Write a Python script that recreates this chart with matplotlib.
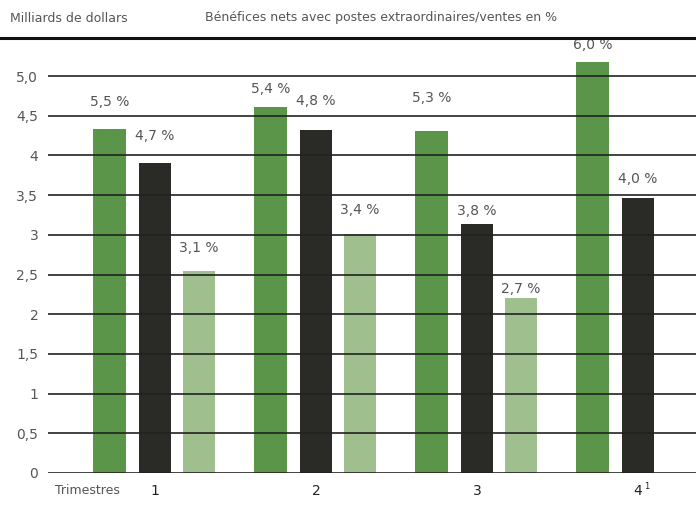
import matplotlib
matplotlib.use("Agg")
import matplotlib.pyplot as plt
from matplotlib.lines import Line2D

# Données (milliards de dollars)
trimestres = ["1", "2", "3", "4"]
serie_a = [4.33, 4.61, 4.31, 5.18]   # vert foncé
serie_b = [3.90, 4.32, 3.14, 3.46]   # noir
serie_c = [2.54, 3.01, 2.20]         # vert clair (pas de T4)
pct_a = ["5,5 %", "5,4 %", "5,3 %", "6,0 %"]
pct_b = ["4,7 %", "4,8 %", "3,8 %", "4,0 %"]
pct_c = ["3,1 %", "3,4 %", "2,7 %"]
yticks = [0, 0.5, 1, 1.5, 2, 2.5, 3, 3.5, 4, 4.5, 5]
ylabels = ["0", "0,5", "1", "1,5", "2", "2,5", "3", "3,5", "4", "4,5", "5,0"]

# décalage vertical des étiquettes (points)
off_a = [20, 13, 24, 12]
off_b = [20, 21, 9, 14]
off_c = [17, 17, 7]

c_a = "#5b9549"
c_b = "#2a2b27"
c_c = "#9fc08e"
txt = "#555555"
plt.rcParams['font.family'] = ['DejaVu Sans']

fig = plt.figure(figsize=(6.96, 5.05), dpi=100)
ax = fig.add_axes([48 / 696, 32 / 505, 1 - 48 / 696, (473 - 38) / 505])

w = 0.2
d = 0.283
x = list(range(len(trimestres)))
ba = ax.bar([i - d for i in x], serie_a, w, color=c_a, zorder=1)
bb = ax.bar(x, serie_b, w, color=c_b, zorder=1)
bc = ax.bar([i + d - 0.01 for i in x[:len(serie_c)]], serie_c, w, color=c_c, zorder=1)

for bars, labs, offs in [(ba, pct_a, off_a), (bb, pct_b, off_b), (bc, pct_c, off_c)]:
    for r, lab, o in zip(bars, labs, offs):
        ax.annotate(lab, (r.get_x() + r.get_width() / 2, r.get_height()),
                    xytext=(0, o), textcoords="offset points", ha="center",
                    va="center", fontsize=10, color=txt)

for y in yticks:
    ax.axhline(y, color="#222222", lw=1.2, zorder=2)

ax.set_xlim(-0.665, 3.36)
ax.set_ylim(0, 5.48)
ax.set_yticks(yticks)
ax.set_yticklabels(ylabels, fontsize=10, color=txt)
ax.tick_params(axis="y", length=0, pad=7)
ax.set_xticks([])
for s in ax.spines.values():
    s.set_visible(False)

# ligne épaisse du haut
fig.add_artist(Line2D([0, 1], [1 - 38 / 505, 1 - 38 / 505], color="#111111", lw=2.2,
                      transform=fig.transFigure))

fig.text(10 / 696, 1 - 18 / 505, "Milliards de dollars", fontsize=9, color=txt, va="center")
fig.text(205 / 696, 1 - 18 / 505, "Bénéfices nets avec postes extraordinaires/ventes en %",
         fontsize=9, color=txt, va="center")
fig.text(55 / 696, 1 - 491 / 505, "Trimestres", fontsize=9, color=txt, va="center")
for i, t in enumerate(trimestres):
    ax.annotate(t, (i, 0), xytext=(0, -13), textcoords="offset points", ha="center",
                va="center", fontsize=10, color="#222222", annotation_clip=False)
# appel de note sur le 4e trimestre
ax.annotate("1", (x[-1], 0), xytext=(6, -10), textcoords="offset points", ha="center",
            va="center", fontsize=6, color="#222222", annotation_clip=False)

fig.savefig("out.png", dpi=100)
